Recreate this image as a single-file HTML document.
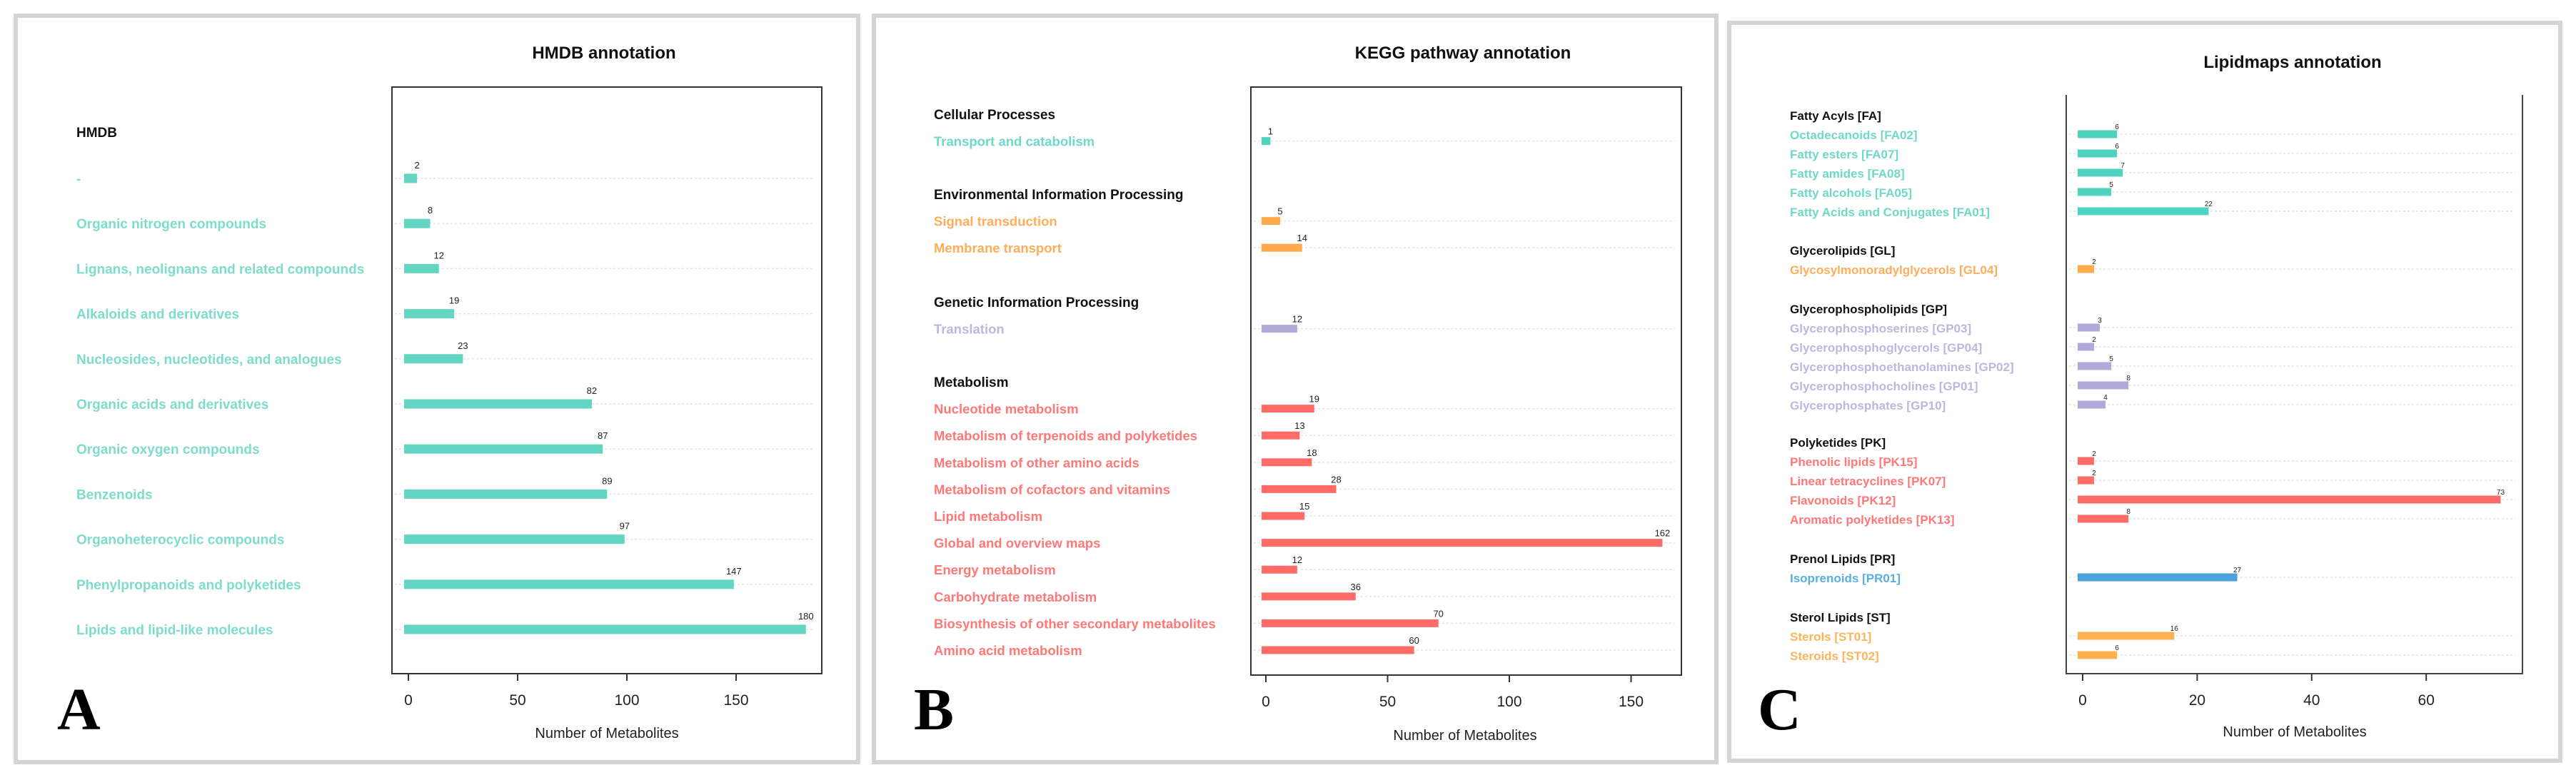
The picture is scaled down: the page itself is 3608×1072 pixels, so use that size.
<!DOCTYPE html>
<html><head><meta charset="utf-8">
<style>
html,body{margin:0;padding:0;background:#fff;}
svg{display:block;font-family:"Liberation Sans",sans-serif;}
</style></head>
<body>
<svg id="fig" width="3608" height="1072" viewBox="0 0 3608 1072"></svg>
<script>
// Panel A data
const hmdbCats = ["-","Organic nitrogen compounds","Lignans, neolignans and related compounds","Alkaloids and derivatives","Nucleosides, nucleotides, and analogues","Organic acids and derivatives","Organic oxygen compounds","Benzenoids","Organoheterocyclic compounds","Phenylpropanoids and polyketides","Lipids and lipid-like molecules"];
const hmdbValues = [2,8,12,19,23,82,87,89,97,147,180];
const hmdbTicks = [0,50,100,150];

// Panel B data
const keggGroups = ["Cellular Processes","Environmental Information Processing","Genetic Information Processing","Metabolism"];
const keggCats = ["Transport and catabolism","Signal transduction","Membrane transport","Translation","Nucleotide metabolism","Metabolism of terpenoids and polyketides","Metabolism of other amino acids","Metabolism of cofactors and vitamins","Lipid metabolism","Global and overview maps","Energy metabolism","Carbohydrate metabolism","Biosynthesis of other secondary metabolites","Amino acid metabolism"];
const keggGroupOf = [0,1,1,2,3,3,3,3,3,3,3,3,3,3];
const keggValues = [1,5,14,12,19,13,18,28,15,162,12,36,70,60];
const keggTicks = [0,50,100,150];

// Panel C data
const lipidGroups = ["Fatty Acyls [FA]","Glycerolipids [GL]","Glycerophospholipids [GP]","Polyketides [PK]","Prenol Lipids [PR]","Sterol Lipids [ST]"];
const lipidCats = ["Octadecanoids [FA02]","Fatty esters [FA07]","Fatty amides [FA08]","Fatty alcohols [FA05]","Fatty Acids and Conjugates [FA01]","Glycosylmonoradylglycerols [GL04]","Glycerophosphoserines [GP03]","Glycerophosphoglycerols [GP04]","Glycerophosphoethanolamines [GP02]","Glycerophosphocholines [GP01]","Glycerophosphates [GP10]","Phenolic lipids [PK15]","Linear tetracyclines [PK07]","Flavonoids [PK12]","Aromatic polyketides [PK13]","Isoprenoids [PR01]","Sterols [ST01]","Steroids [ST02]"];
const lipidGroupOf = [0,0,0,0,0,1,2,2,2,2,2,3,3,3,3,4,5,5];
const lipidValues = [6,6,7,5,22,2,3,2,5,8,4,2,2,73,8,27,16,6];
const lipidTicks = [0,20,40,60];

const NS="http://www.w3.org/2000/svg";
const svg=document.getElementById('fig');
function mk(tag,attrs,parent){const e=document.createElementNS(NS,tag);for(const k in attrs)e.setAttribute(k,attrs[k]);(parent||svg).appendChild(e);return e;}
function txt(s,attrs,parent){const e=mk('text',attrs,parent);e.textContent=s;return e;}

function panel(o){
  const g=mk('g',{});
  
  
  const fr=mk('rect',{x:o.bx0,y:o.by0,width:o.bx1-o.bx0,height:o.by1-o.by0,fill:'none',stroke:'#d4d4d4','stroke-width':6},g);
  
  
  const t=txt(o.title,{x:o.titleX,y:o.titleY,'text-anchor':'middle','font-size':24,'font-weight':'bold',fill:'#111'},g);
  
  
  const xs=v=>o.x0+v*o.unit;
  // plot frame
  if(o.fullBox){
    const pb=mk('rect',{x:o.px0,y:o.py0,width:o.px1-o.px0,height:o.py1-o.py0,fill:'none',stroke:'#333','stroke-width':2},g);
    
    
  } else {
    const pb=mk('path',{d:`M${o.px0},${o.py0}V${o.py1}H${o.px1}V${o.py0}`,fill:'none',stroke:'#444','stroke-width':2},g);
    
    
  }
  // ticks
  o.ticks.forEach(tv=>{
    const x=xs(tv);
    const tl=mk('line',{x1:x,x2:x,y1:o.py1,y2:o.py1+10,stroke:'#333','stroke-width':2},g);
    
    
    const tt=txt(String(tv),{x:x,y:o.py1+44,'text-anchor':'middle','font-size':21,fill:'#222'},g);
    
    
  });
  const at=txt('Number of Metabolites',{x:o.axisTitleX,y:o.axisTitleY,'text-anchor':'middle','font-size':20,fill:'#222'},g);
  
  
  // headings
  o.headings.forEach(h=>{
    const ht=txt(h.text,{x:o.textX,y:h.y+7,'font-size':o.headSize,'font-weight':'bold',fill:'#111'},g);
    
    
  });
  // rows
  o.cats.forEach((c,i)=>{
    const y=o.rowY[i], v=o.values[i], col=o.colors[i];
    const gl=mk('line',{x1:o.px0+4,x2:o.px1-10,y1:y,y2:y,stroke:'#e2e2e2','stroke-width':1.5,'stroke-dasharray':'3,3'},g);
    
    
    const lt=txt(c,{x:o.textX,y:y+7,'font-size':o.labSize,'font-weight':'bold',fill:o.labColors[i]},g);
    
    
    const b=mk('rect',{x:xs(0)-o.pre,y:y-o.barH/2,width:xs(v)-xs(0)+o.pre+o.post,height:o.barH,fill:col},g);
    
    
    const vt=txt(String(v),{x:xs(v)+o.post,y:y-o.valOff,'text-anchor':'middle','font-size':o.valSize,fill:'#222'},g);
    
    
  });
  const L=txt(o.letter,{x:o.letterX,y:o.letterY,'font-size':84,'font-weight':'bold','font-family':'"Liberation Serif",serif',fill:'#000'},g);
  
  
}

// Panel A
{
  const rowY=hmdbCats.map((c,i)=>250+i*63.2);
  panel({name:'panel-a-hmdb',bx0:22,by0:22,bx1:1202,by1:1068,title:'HMDB annotation',titleX:846,titleY:82,
    px0:549,py0:122,px1:1151,py1:944,x0:572,unit:3.06,ticks:hmdbTicks,fullBox:true,
    axisTitleX:850,axisTitleY:1034,textX:107,headSize:19,labSize:19,
    headings:[{text:'HMDB',y:185}],cats:hmdbCats,values:hmdbValues,rowY:rowY,
    colors:hmdbCats.map(()=>'#62d6c2'),labColors:hmdbCats.map(()=>'#7ddccb'),
    barH:13,pre:6,post:6,valOff:14,valSize:13,letter:'A',letterX:80,letterY:1022});
}
// Panel B
{
  const gc=['#4fd3c0','#ffa94d','#b2a9db','#ff6b66'];
  const lc=['#6fd8c8','#ffad5a','#bdb6e0','#ff7878'];
  const groupY=[160,272,423,535];
  const rowY=[];let last=-1,y=0;
  keggCats.forEach((c,i)=>{const gi=keggGroupOf[i];if(gi!==last){y=groupY[gi]+37.6;last=gi;}else y+=37.6;rowY.push(y);});
  panel({name:'panel-b-kegg',bx0:1224,by0:22,bx1:2404,by1:1068,title:'KEGG pathway annotation',titleX:2049,titleY:82,
    px0:1752,py0:122,px1:2355,py1:946,x0:1773,unit:3.41,ticks:keggTicks,fullBox:true,
    axisTitleX:2052,axisTitleY:1037,textX:1308,headSize:19,labSize:18.5,
    headings:keggGroups.map((t,i)=>({text:t,y:groupY[i]})),cats:keggCats,values:keggValues,rowY:rowY,
    colors:keggGroupOf.map(g=>gc[g]),labColors:keggGroupOf.map(g=>lc[g]),
    barH:11,pre:6,post:3,valOff:9,valSize:13,letter:'B',letterX:1280,letterY:1022});
}
// Panel C
{
  const gc=['#4fd3c0','#ffa94d','#b2a9db','#ff6b66','#4aa3d8','#ffb04f'];
  const lc=['#6fd8c8','#ffad5a','#bdb6e0','#ff7878','#5aaee0','#ffb45c'];
  const groupY=[161,350,432,619,782,864];
  const rowY=[];let last=-1,y=0;
  lipidCats.forEach((c,i)=>{const gi=lipidGroupOf[i];if(gi!==last){y=groupY[gi]+27;last=gi;}else y+=27;rowY.push(y);});
  panel({name:'panel-c-lipidmaps',bx0:2422,by0:32,bx1:3586,by1:1066,title:'Lipidmaps annotation',titleX:3211,titleY:95,
    px0:2894,py0:133,px1:3533,py1:944,x0:2917,unit:8.02,ticks:lipidTicks,fullBox:false,
    axisTitleX:3214,axisTitleY:1032,textX:2507,headSize:17,labSize:17,
    headings:lipidGroups.map((t,i)=>({text:t,y:groupY[i]})),cats:lipidCats,values:lipidValues,rowY:rowY,
    colors:lipidGroupOf.map(g=>gc[g]),labColors:lipidGroupOf.map(g=>lc[g]),
    barH:11,pre:7,post:0,valOff:7,valSize:10,letter:'C',letterX:2462,letterY:1022});
}
</script>
</body></html>
